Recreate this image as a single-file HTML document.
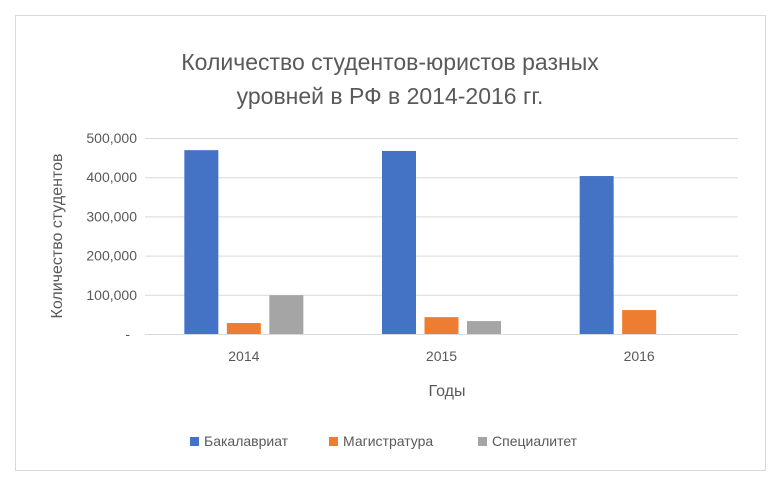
<!DOCTYPE html>
<html><head><meta charset="utf-8"><style>
body{margin:0;background:#fff;}
svg text{font-family:"Liberation Sans",sans-serif;}
</style></head><body>
<svg width="780" height="489" xmlns="http://www.w3.org/2000/svg">
<rect x="15.5" y="15.5" width="750" height="455" fill="#fff" stroke="#d9d9d9"/>
<text x="390" y="70" text-anchor="middle" font-size="23" fill="#595959">Количество студентов-юристов разных</text>
<text x="390" y="104" text-anchor="middle" font-size="23" fill="#595959">уровней в РФ в 2014-2016 гг.</text>
<g id="grid"></g><g id="bars"></g><g id="labels"></g>
<text transform="translate(62,236) rotate(-90)" text-anchor="middle" font-size="16" fill="#595959">Количество студентов</text>
<text x="447" y="396" text-anchor="middle" font-size="16" fill="#595959">Годы</text>
<g>
<rect x="190" y="437" width="9" height="9" fill="#4472c4"/>
<text x="204" y="446" font-size="14" fill="#595959">Бакалавриат</text>
<rect x="329" y="437" width="9" height="9" fill="#ed7d31"/>
<text x="343" y="446" font-size="14" fill="#595959">Магистратура</text>
<rect x="478" y="437" width="9" height="9" fill="#a5a5a5"/>
<text x="492" y="446" font-size="14" fill="#595959">Специалитет</text>
</g>
</svg>
<script>
const categories=["2014","2015","2016"];
const bachelor=[469000,467000,403000];
const master=[28000,43000,61000];
const specialist=[99000,33000,0];
const yTicks=[0,100000,200000,300000,400000,500000];
const yTickLabels=["-","100,000","200,000","300,000","400,000","500,000"];
const NS="http://www.w3.org/2000/svg";
const x0=145,x1=738,yBase=334,yTop=138,yMax=500000;
const y=v=>yBase-(v/yMax)*(yBase-yTop);
const band=(x1-x0)/categories.length;
const cx=i=>x0+band*(i+0.5);
function mk(t,a,p){const e=document.createElementNS(NS,t);for(const k in a)e.setAttribute(k,a[k]);p.appendChild(e);return e;}
const grid=document.getElementById('grid'),bars=document.getElementById('bars'),labels=document.getElementById('labels');
yTicks.forEach((v,i)=>{
 const l=mk('line',{x1:x0,x2:x1,y1:y(v)+0.5,y2:y(v)+0.5,stroke:'#d9d9d9'},grid);
 
 
 const t=mk('text',{x:i===0?130:137,y:y(v)+5,'text-anchor':'end','font-size':14,fill:'#595959'},labels);
 t.textContent=yTickLabels[i];
 
 
});
const series=[[bachelor,'#4472c4','bachelor'],[master,'#ed7d31','master'],[specialist,'#a5a5a5','specialist']];
const bw=34,gap=8.5;
categories.forEach((c,i)=>{
 series.forEach((s,j)=>{
  const bx=cx(i)+(j-1)*(bw+gap)-bw/2;
  const r=mk('rect',{x:bx,y:y(s[0][i]),width:bw,height:yBase-y(s[0][i]),fill:s[1]},bars);
  
  
 });
 const t=mk('text',{x:cx(i),y:361,'text-anchor':'middle','font-size':14,fill:'#595959'},labels);
 t.textContent=c;
 
 
});
</script>
</body></html>
